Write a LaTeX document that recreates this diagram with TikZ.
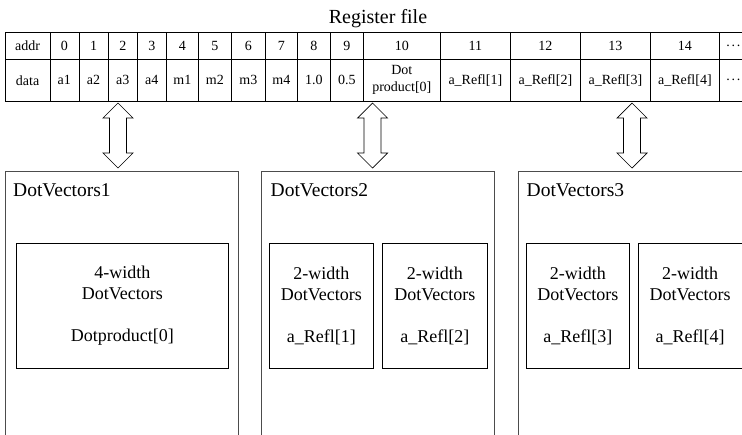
\documentclass[tikz,border=0pt]{standalone}
\usepackage{fontspec}
\setmainfont{Liberation Serif}
\usetikzlibrary{calc}
\newcommand{\lowdots}{.\kern0.12em.\kern0.12em.}
\begin{document}
\begin{tikzpicture}[x=1pt, y=-1pt,
  cell/.style={draw, line width=0.7pt, anchor=north west, inner sep=0pt,
    align=center, font=\fontsize{14}{17}\selectfont},
  outer/.style={draw=black!70, line width=0.8pt, anchor=north west, inner sep=0pt},
  unit/.style={draw, line width=0.7pt, anchor=north west, inner sep=0pt,
    align=center, font=\fontsize{18}{21}\selectfont},
  tag/.style={anchor=base west, inner sep=0pt, font=\fontsize{19.5}{23}\selectfont},
  dbl/.style={draw, line width=0.7pt, fill=white, line join=miter}]

\useasboundingbox (0,0) rectangle (742,434);
\clip (0,0) rectangle (742,434);

% title
\node[anchor=base, inner sep=0pt, font=\fontsize{20}{24}\selectfont] (title) at (378,23) {Register file};

% register file: address row and data row
\foreach \x/\w/\a/\d [count=\i] in {
    5/44.5/addr/data, 49.5/29/0/a1, 78.5/29.5/1/a2, 108/29/2/a3, 137/29/3/a4,
    166/32/4/m1, 198/33/5/m2, 231/34/6/m3, 265/32/7/m4, 297/33/8/1.0,
    330/33/9/0.5, 363/77/10/{Dot\\product[0]}, 440/70/11/{a\_Refl[1]},
    510/70/12/{a\_Refl[2]}, 580/70/13/{a\_Refl[3]}, 650/69/14/{a\_Refl[4]},
    719/28/{\lowdots}/{\lowdots}} {
  \node[cell, minimum width=\w, minimum height=27.5] (a\i) at (\x,31.5) {\a};
  \node[cell, minimum width=\w, minimum height=42] (d\i) at (\x,59) {\d};
}

% DotVectors units
\node[outer, minimum width=233, minimum height=300] (dv1) at (5,171) {};
\node[outer, minimum width=232.5, minimum height=300] (dv2) at (261,171) {};
\node[outer, minimum width=260, minimum height=300] (dv3) at (518,171) {};

\node[tag] (l1) at ([shift={(8,25)}]dv1.north west) {DotVectors1};
\node[tag] (l2) at ([shift={(9.5,25)}]dv2.north west) {DotVectors2};
\node[tag] (l3) at ([shift={(8.5,25)}]dv3.north west) {DotVectors3};

\node[unit, minimum width=212, minimum height=125] (k1) at (16,243)
  {4-width\\DotVectors\\[21pt]Dotproduct[0]};
\node[unit, minimum width=104, minimum height=125] (k2) at (269,243)
  {2-width\\DotVectors\\[21pt]a\_Refl[1]};
\node[unit, minimum width=105, minimum height=125] (k3) at (382,243)
  {2-width\\DotVectors\\[21pt]a\_Refl[2]};
\node[unit, minimum width=103, minimum height=125] (k4) at (526,243)
  {2-width\\DotVectors\\[21pt]a\_Refl[3]};
\node[unit, minimum width=103.5, minimum height=125] (k5) at (638,243)
  {2-width\\DotVectors\\[21pt]a\_Refl[4]};

% two-way hollow arrows between the register file and each unit
\foreach \i/\cx in {1/118, 2/372.5, 3/632} {
  \coordinate (u\i) at (\cx,103);
  \coordinate (v\i) at (\cx,168);
  \draw[dbl] (u\i) -- ++(15,15) -- ++(-6.5,0) -- ($(v\i)+(8.5,-15)$)
    -- ++(6.5,0) -- (v\i) -- ++(-15,-15) -- ++(6.5,0)
    -- ($(u\i)+(-8.5,15)$) -- ++(-6.5,0) -- cycle;
}
\end{tikzpicture}
\end{document}
